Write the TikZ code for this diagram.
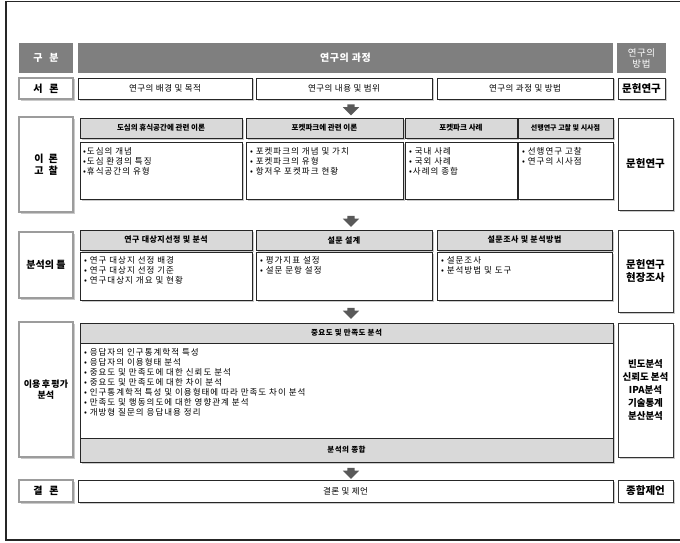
\documentclass[tikz,border=0pt]{standalone}
\usepackage{fontspec}
\setmainfont{Noto Sans CJK KR}
\newfontfamily\widefont[LetterSpace=12]{Noto Sans CJK KR}
\newfontfamily\semiwide[LetterSpace=6]{Noto Sans CJK KR}
\usetikzlibrary{shadows,shapes.arrows,calc}
\definecolor{hdrgray}{HTML}{7F7F7F}
\definecolor{subgray}{HTML}{D9D9D9}
\definecolor{edgegray}{HTML}{9C9C9C}
\definecolor{arrgray}{HTML}{595959}
\newcommand{\fsz}[2]{\fontsize{#1}{#2}\selectfont}
\begin{document}
\begin{tikzpicture}[x=1pt,y=-1pt,
  every node/.style={inner sep=0pt, outer sep=0pt},
  shad/.style={drop shadow={shadow xshift=1.5pt, shadow yshift=-1.5pt, fill=black!35, opacity=0.6}},
  hdr/.style={fill=hdrgray, text=white, font=\semiwide\fsz{10}{11}\bfseries, align=center},
  subhd/.style={fill=subgray, draw=black!85, line width=0.8pt, font=\fsz{7.5}{9}\bfseries, shad},
  cbox/.style={fill=white, draw=black!85, line width=0.8pt, shad},
  lbox/.style={fill=white, draw=edgegray, line width=2pt, font=\fsz{10}{12.5}\bfseries, align=center, shad},
  rbox/.style={fill=white, draw=black!80, line width=0.8pt, font=\fsz{10.5}{12.5}\bfseries, align=center, shad},
  txt/.style={font=\widefont\fsz{8.5}{10}, align=left, anchor=north west},
  blockarrow/.style={single arrow, shape border rotate=270, fill=arrgray, inner sep=3.5pt,
     minimum height=11pt, single arrow head extend=4.5pt, single arrow head indent=0pt}]
\useasboundingbox (0,0) rectangle (680,543);
\draw[line width=1.3pt, black!85] (680,1.5) -- (6,1.5) -- (6,540) -- (680,540);

% header row
\node[hdr, minimum width=54pt, minimum height=30pt] (gb) at (46,58) {구\hspace{0.7em}분};
\node[hdr, minimum width=535pt, minimum height=30pt] (gc) at (345.5,58) {연구의 과정};
\node[hdr, minimum width=49pt, minimum height=30pt, font=\semiwide\fsz{9.5}{11}] (gm) at (641.5,58) {연구의\\방법};

% 서론
\node[lbox, minimum width=54pt, minimum height=21pt] (l1) at (46,88.5) {서\hspace{0.7em}론};
\node[cbox, minimum width=174pt, minimum height=21pt, font=\semiwide\fsz{8.5}{10}] (s1) at (165,88.5) {연구의 배경 및 목적};
\node[cbox, minimum width=176pt, minimum height=21pt, font=\semiwide\fsz{8.5}{10}] (s2) at (344,88.5) {연구의 내용 및 범위};
\node[cbox, minimum width=176pt, minimum height=21pt, font=\semiwide\fsz{8.5}{10}] (s3) at (525,88.5) {연구의 과정 및 방법};
\node[rbox, minimum width=47pt, minimum height=21pt, font=\fsz{10.5}{12}\bfseries] (r1) at (641.5,88.5) {문헌연구};

\node[blockarrow] (ar1) at (351,108) {};

% 이론 고찰
\node[lbox, minimum width=54pt, minimum height=95pt] (l2) at (46,164.5) {이\hspace{0.5em}론\\고\hspace{0.5em}찰};
\node[subhd, minimum width=162pt, minimum height=20pt] (h2a) at (161,128) {도심의 휴식공간에 관련 이론};
\node[subhd, minimum width=157pt, minimum height=20pt] (h2b) at (324.5,128) {포켓파크에 관련 이론};
\node[subhd, minimum width=112pt, minimum height=20pt] (h2c) at (461,128) {포켓파크 사례};
\node[subhd, minimum width=95pt, minimum height=20pt, font=\fsz{7}{9}\bfseries] (h2d) at (565.5,128) {선행연구 고찰 및 시사점};
\node[cbox, minimum width=162pt, minimum height=57pt] (c2a) at (161,170.5) {};
\node[cbox, minimum width=157pt, minimum height=57pt] (c2b) at (324.5,170.5) {};
\node[cbox, minimum width=112pt, minimum height=57pt] (c2c) at (461,170.5) {};
\node[cbox, minimum width=95pt, minimum height=57pt] (c2d) at (565.5,170.5) {};
\node[txt] (t2a) at ($(c2a.north west)+(3,5)$) {•도심의 개념\\•도심 환경의 특징\\•휴식공간의 유형};
\node[txt] (t2b) at ($(c2b.north west)+(4,5)$) {• 포켓파크의 개념 및 가치\\• 포켓파크의 유형\\• 항저우 포켓파크 현황};
\node[txt] (t2c) at ($(c2c.north west)+(4,5)$) {• 국내 사례\\• 국외 사례\\•사례의 종합};
\node[txt] (t2d) at ($(c2d.north west)+(4,5)$) {• 선행연구 고찰\\• 연구의 시사점};
\node[rbox, minimum width=55pt, minimum height=92pt] (r2) at (645.5,164) {문헌연구};

\node[blockarrow] (ar2) at (351,219.5) {};

% 분석의 틀
\node[lbox, minimum width=54pt, minimum height=66pt] (l3) at (46,265) {분석의 틀};
\node[subhd, minimum width=172pt, minimum height=20pt, font=\semiwide\fsz{8}{9}\bfseries] (h3a) at (166,240) {연구 대상지선정 및 분석};
\node[subhd, minimum width=176pt, minimum height=20pt, font=\semiwide\fsz{8}{9}\bfseries] (h3b) at (344,240) {설문 설계};
\node[subhd, minimum width=175pt, minimum height=20pt, font=\semiwide\fsz{8}{9}\bfseries] (h3c) at (524.5,240) {설문조사 및 분석방법};
\node[cbox, minimum width=172pt, minimum height=48pt] (c3a) at (166,276) {};
\node[cbox, minimum width=176pt, minimum height=48pt] (c3b) at (344,276) {};
\node[cbox, minimum width=175pt, minimum height=48pt] (c3c) at (524.5,276) {};
\node[txt] (t3a) at ($(c3a.north west)+(4,4)$) {• 연구 대상지 선정 배경\\• 연구 대상지 선정 기준\\• 연구대상지 개요 및 현황};
\node[txt] (t3b) at ($(c3b.north west)+(4,4)$) {• 평가지표 설정\\• 설문 문항 설정};
\node[txt] (t3c) at ($(c3c.north west)+(4,4)$) {• 설문조사\\• 분석방법 및 도구};
\node[rbox, minimum width=55pt, minimum height=82pt, font=\fsz{10.5}{13}\bfseries] (r3) at (645.5,271) {문헌연구\\현장조사};

\node[blockarrow] (ar3) at (351,311.5) {};

% 이용 후 평가 분석
\node[lbox, minimum width=54pt, minimum height=135pt, font=\fsz{9}{11.5}\bfseries] (l4) at (46,389.5) {이용\hspace{0.15em}후\hspace{0.15em}평가\\분석};
\node[subhd, minimum width=533pt, minimum height=20pt, font=\semiwide\fsz{7.5}{9}\bfseries] (h4) at (346.5,333) {중요도 및 만족도 분석};
\node[cbox, minimum width=533pt, minimum height=95pt] (c4) at (346.5,390.5) {};
\node[txt] (t4) at ($(c4.north west)+(4,5)$) {• 응답자의 인구통계학적 특성\\• 응답자의 이용형태 분석\\• 중요도 및 만족도에 대한 신뢰도 분석\\• 중요도 및 만족도에 대한 차이 분석\\• 인구통계학적 특성 및 이용형태에 따라 만족도 차이 분석\\• 만족도 및 행동의도에 대한 영향관계 분석\\• 개방형 질문의 응답내용 정리};
\node[subhd, minimum width=533pt, minimum height=24pt, font=\semiwide\fsz{7.5}{9}\bfseries] (f4) at (346.5,450) {분석의 종합};
\node[rbox, minimum width=55pt, minimum height=134pt, font=\fsz{9.5}{13}\bfseries] (r4) at (645.5,390) {빈도분석\\신뢰도 본석\\IPA분석\\기술통계\\분산분석};

\node[blockarrow] (ar4) at (351,471.5) {};

% 결론
\node[lbox, minimum width=54pt, minimum height=22pt] (l5) at (46,491) {결\hspace{0.7em}론};
\node[cbox, minimum width=535pt, minimum height=22pt, font=\semiwide\fsz{8.5}{10}] (m5) at (345.5,491) {결론 및 제언};
\node[rbox, minimum width=55pt, minimum height=22pt] (r5) at (645.5,491) {종합제언};
\end{tikzpicture}
\end{document}
